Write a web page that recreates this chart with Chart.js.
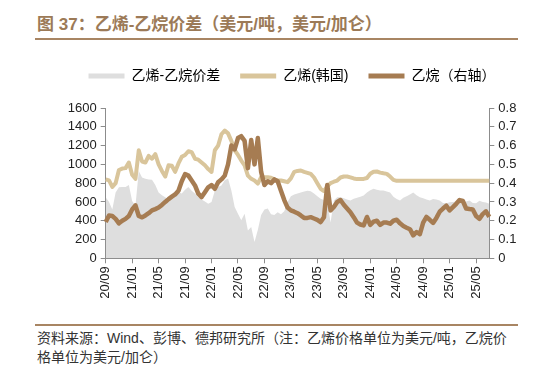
<!DOCTYPE html>
<html lang="zh">
<head>
  <meta charset="UTF-8">
  <title>乙烯-乙烷价差</title>
  <script src="https://cdn.jsdelivr.net/npm/chart.js"></script>
  <style>
    body { margin: 0; width: 552px; height: 371px; background: #fff; position: relative; overflow: hidden;
           font-family: 'Liberation Sans', 'Noto Sans CJK SC', sans-serif; }
    .title { position: absolute; left: 37px; top: 10px; font-size: 17px; font-weight: bold; color: #9c7a57;
             white-space: nowrap; }
    .rule { position: absolute; left: 35px; width: 483px; height: 2px; background: #a88563; }
    .source { position: absolute; left: 37px; top: 329px; font-size: 14px; line-height: 19px; color: #333; white-space: nowrap; }
    .chart-box { position: absolute; left: 0; top: 49px; width: 552px; height: 261px; }
  </style>
</head>
<body>
  <div class="title">图 37：乙烯-乙烷价差（美元/吨，美元/加仑）</div>
  <div class="rule" style="top:38px"></div>
  <div class="chart-box"><canvas id="spreadChart"></canvas></div>
  <div class="rule" style="top:324px"></div>
  <div class="source">资料来源：Wind、彭博、德邦研究所（注：乙烯价格单位为美元/吨，乙烷价<br>格单位为美元/加仑）</div>

  <script>
    // half-month points, 2020/09 .. 2025/07
    const tickLabels = ['20/09', '21/01', '21/05', '21/09', '22/01', '22/05', '22/09', '23/01',
                        '23/05', '23/09', '24/01', '24/05', '24/09', '25/01', '25/05'];

    // 乙烯-乙烷价差, 美元/吨
    const spread = [
      651, 600, 520, 700, 757, 760, 760, 780, 610, 560, 930, 860, 846, 840, 835, 780,
      700, 670, 650, 620, 640, 690, 704, 690, 730, 760, 720, 690, 651, 625, 605, 581,
      600, 720, 760, 775, 830, 850, 722, 545, 474, 404, 474, 297, 333, 173, 300, 460,
      520, 530, 470, 460, 490, 470, 500, 600, 660, 680, 690, 700, 710, 720, 715, 690,
      660, 634, 620, 600, 380, 616, 651, 650, 640, 625, 616, 634, 645, 655, 669, 700,
      725, 740, 730, 722, 722, 712, 700, 655, 630, 616, 645, 660, 680, 700, 670, 651,
      640, 625, 616, 630, 625, 616, 590, 585, 598, 600, 605, 616, 600, 605, 616, 590,
      585, 612, 600, 595, 581
    ];

    // 乙烯(韩国), 美元/吨
    const ethylene = [
      840, 830, 760, 800, 940, 955, 960, 1020, 890, 846, 1150, 1030, 1020, 1090, 1060, 1110,
      1000, 930, 870, 990, 985, 920, 1010, 1080, 1100, 1140, 1130, 1060, 1050, 1020, 990, 950,
      920, 1150, 1200, 1320, 1360, 1330, 1250, 1150, 1100, 1040, 990, 880, 846, 828, 795, 864,
      864, 862, 857, 840, 828, 828, 820, 811, 850, 920, 930, 935, 920, 910, 899, 860,
      800, 740, 715, 765, 800, 815, 828, 860, 871, 871, 862, 850, 843, 843, 845, 855,
      900, 922, 924, 912, 905, 899, 870, 835, 825, 825, 825, 825, 825, 825, 825, 825,
      825, 825, 825, 825, 825, 825, 825, 825, 825, 825, 825, 825, 825, 825, 825, 825,
      825, 825, 825, 825, 825
    ];

    // 乙烷, 美元/加仑 (右轴)
    const ethane = [
      0.193, 0.228, 0.225, 0.21, 0.186, 0.2, 0.21, 0.225, 0.26, 0.282, 0.225, 0.218, 0.228, 0.24, 0.255, 0.262,
      0.27, 0.284, 0.3, 0.315, 0.328, 0.34, 0.36, 0.41, 0.448, 0.44, 0.414, 0.388, 0.344, 0.326, 0.352, 0.378,
      0.39, 0.37, 0.405, 0.42, 0.44, 0.5, 0.6, 0.58, 0.64, 0.65, 0.625, 0.48, 0.63, 0.5, 0.64, 0.46,
      0.39, 0.41, 0.4, 0.42, 0.41, 0.36, 0.31, 0.27, 0.255, 0.248, 0.24, 0.228, 0.215, 0.215, 0.219, 0.212,
      0.205, 0.193, 0.219, 0.39, 0.255, 0.273, 0.3, 0.31, 0.285, 0.265, 0.245, 0.219, 0.19, 0.18, 0.175, 0.22,
      0.178, 0.195, 0.2, 0.178, 0.19, 0.19, 0.184, 0.2, 0.205, 0.186, 0.172, 0.163, 0.155, 0.122, 0.14, 0.128,
      0.19, 0.22, 0.205, 0.188, 0.215, 0.248, 0.265, 0.28, 0.255, 0.272, 0.29, 0.31, 0.305, 0.265, 0.262, 0.26,
      0.225, 0.21, 0.235, 0.25, 0.22
    ];

    const labels = [];
    for (let i = 0; i < spread.length; i++) {
      const m = 8 + Math.floor(i / 2);
      const yy = 20 + Math.floor(m / 12);
      const mm = (m % 12) + 1;
      labels.push(yy + '/' + String(mm).padStart(2, '0'));
    }

    const FONT = "'Liberation Sans', 'Noto Sans CJK SC', sans-serif";
    const axisColor = '#8c8c8c';

    // extra room under the legend
    const legendSpacer = {
      id: 'legendSpacer',
      beforeInit(chart) {
        const fit = chart.legend.fit;
        chart.legend.fit = function () {
          fit.call(this);
          this.height += 15;
        };
      }
    };

    new Chart(document.getElementById('spreadChart').getContext('2d'), {
      type: 'line',
      data: {
        labels: labels,
        datasets: [
          {
            label: '乙烯-乙烷价差',
            data: spread,
            yAxisID: 'y',
            borderWidth: 0,
            borderColor: '#dedede',
            backgroundColor: '#dedede',
            fill: 'origin',
            pointRadius: 0,
            tension: 0,
            order: 3
          },
          {
            label: '乙烯(韩国)',
            data: ethylene,
            yAxisID: 'y',
            borderColor: '#d9c59b',
            backgroundColor: '#d9c59b',
            borderWidth: 4,
            borderJoinStyle: 'round',
            fill: false,
            pointRadius: 0,
            tension: 0,
            order: 2
          },
          {
            label: '乙烷（右轴）',
            data: ethane,
            yAxisID: 'y1',
            borderColor: '#a67c52',
            backgroundColor: '#a67c52',
            borderWidth: 4.5,
            borderJoinStyle: 'round',
            fill: false,
            pointRadius: 0,
            tension: 0,
            order: 1
          }
        ]
      },
      options: {
        responsive: true,
        maintainAspectRatio: false,
        animation: false,
        layout: { padding: { left: 32, right: 0, top: 0, bottom: 0 } },
        plugins: {
          tooltip: { enabled: false },
          legend: {
            position: 'top',
            labels: {
              color: '#333',
              font: { family: FONT, size: 14 },
              boxWidth: 36,
              boxHeight: 5,
              padding: 20,
              sort: (a, b) => a.datasetIndex - b.datasetIndex,
              generateLabels: chart => chart.data.datasets.map((ds, i) => ({
                text: ds.label,
                fillStyle: ds.backgroundColor,
                strokeStyle: ds.backgroundColor,
                lineWidth: 0,
                hidden: false,
                datasetIndex: i
              }))
            }
          }
        },
        scales: {
          x: {
            type: 'category',
            grid: { display: true, drawOnChartArea: false, drawTicks: true, tickLength: 5, color: axisColor },
            border: { display: true, color: axisColor },
            ticks: {
              autoSkip: false,
              maxRotation: 90,
              minRotation: 90,
              color: '#222',
              font: { family: FONT, size: 13 },
              callback: function (value, index) {
                const lab = labels[index];
                return (index % 2 === 0 && tickLabels.includes(lab)) ? lab : null;
              }
            },
            afterFit: s => { s.height = 51.7; }
          },
          y: {
            position: 'left',
            min: 0,
            max: 1600,
            grid: { display: true, drawOnChartArea: false, drawTicks: true, tickLength: 5, color: axisColor },
            border: { display: true, color: axisColor },
            ticks: { stepSize: 200, color: '#222', font: { family: FONT, size: 13 }, padding: 4,
                     callback: v => String(v) },
            afterFit: s => { s.width = 73.7; }
          },
          y1: {
            position: 'right',
            min: 0,
            max: 0.8,
            grid: { display: true, drawOnChartArea: false, drawTicks: true, tickLength: 5, color: axisColor },
            border: { display: true, color: axisColor },
            ticks: {
              stepSize: 0.1,
              color: '#222',
              font: { family: FONT, size: 13 },
              padding: 4,
              callback: v => (Math.round(v * 10) / 10).toString()
            },
            afterFit: s => { s.width = 62.7; }
          }
        }
      },
      plugins: [legendSpacer]
    });
  </script>
</body>
</html>
